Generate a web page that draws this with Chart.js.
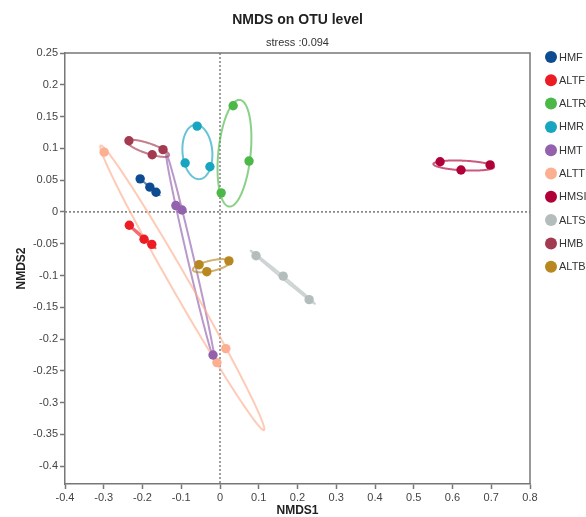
<!DOCTYPE html>
<html>
<head>
<meta charset="utf-8">
<script src="https://cdn.jsdelivr.net/npm/chart.js@4/dist/chart.umd.min.js"></script>
<style>
  html, body { margin: 0; padding: 0; background: #fff; }
  #wrap { width: 586px; height: 517px; }
</style>
</head>
<body>
<div id="wrap"><canvas id="nmds" width="586" height="517"></canvas></div>
<script>
// groups in legend order
const groups = ['HMF', 'ALTF', 'ALTR', 'HMR', 'HMT', 'ALTT', 'HMSI', 'ALTS', 'HMB', 'ALTB'];
const colors = ['#0e4c92', '#ec1c24', '#4cb848', '#17a5bf', '#9461ad', '#fdaf91', '#b00038', '#b4bcbc', '#a33b50', '#b8871f'];

// NMDS1 / NMDS2 scores, 3 samples per group
const HMF = [[-0.206, 0.052], [-0.181, 0.039], [-0.165, 0.031]];
const ALTF = [[-0.234, -0.021], [-0.196, -0.043], [-0.176, -0.051]];
const ALTR = [[0.034, 0.167], [0.075, 0.080], [0.003, 0.030]];
const HMR = [[-0.059, 0.135], [-0.090, 0.077], [-0.026, 0.071]];
const HMT = [[-0.114, 0.010], [-0.098, 0.003], [-0.018, -0.225]];
const ALTT = [[-0.299, 0.094], [0.015, -0.215], [-0.008, -0.237]];
const HMSI = [[0.568, 0.079], [0.622, 0.066], [0.697, 0.074]];
const ALTS = [[0.093, -0.069], [0.163, -0.101], [0.230, -0.138]];
const HMB = [[-0.235, 0.112], [-0.175, 0.090], [-0.147, 0.098]];
const ALTB = [[-0.054, -0.083], [-0.034, -0.094], [0.023, -0.077]];
const scores = [HMF, ALTF, ALTR, HMR, HMT, ALTT, HMSI, ALTS, HMB, ALTB];

const xTicks = [-0.4, -0.3, -0.2, -0.1, 0, 0.1, 0.2, 0.3, 0.4, 0.5, 0.6, 0.7, 0.8];
const yTicks = [0.25, 0.2, 0.15, 0.1, 0.05, 0, -0.05, -0.1, -0.15, -0.2, -0.25, -0.3, -0.35, -0.4];
const stress = 0.094;

const FONT = "'Liberation Sans', Arial, sans-serif";
const AXIS = '#777';
const ELLIPSE_K = 1.21;

function withAlpha(hex, a) {
  const n = parseInt(hex.slice(1), 16);
  return `rgba(${(n >> 16) & 255}, ${(n >> 8) & 255}, ${n & 255}, ${a})`;
}

const fmt = (v) => String(Math.round(v * 100) / 100);

// dotted zero lines + group ellipses (under the points)
const underlay = {
  id: 'underlay',
  beforeDatasetsDraw(chart) {
    const { ctx, chartArea: a, scales: { x, y } } = chart;
    ctx.save();
    ctx.strokeStyle = '#888';
    ctx.lineWidth = 1.6;
    ctx.setLineDash([2, 2]);
    ctx.beginPath();
    const x0 = x.getPixelForValue(0);
    const y0 = y.getPixelForValue(0);
    ctx.moveTo(x0, a.top);
    ctx.lineTo(x0, a.bottom);
    ctx.moveTo(a.left, y0);
    ctx.lineTo(a.right, y0);
    ctx.stroke();
    ctx.setLineDash([]);

    chart.data.datasets.forEach((ds) => {
      const pts = ds.data;
      const n = pts.length;
      const mx = pts.reduce((s, p) => s + p.x, 0) / n;
      const my = pts.reduce((s, p) => s + p.y, 0) / n;
      let sxx = 0; let syy = 0; let sxy = 0;
      pts.forEach((p) => {
        sxx += (p.x - mx) ** 2;
        syy += (p.y - my) ** 2;
        sxy += (p.x - mx) * (p.y - my);
      });
      sxx /= n - 1; syy /= n - 1; sxy /= n - 1;
      const l11 = Math.sqrt(sxx);
      const l21 = sxy / l11;
      const l22 = Math.sqrt(Math.max(syy - l21 * l21, 1e-12));
      ctx.strokeStyle = withAlpha(ds.backgroundColor, 0.65);
      ctx.lineWidth = 2;
      ctx.beginPath();
      for (let i = 0; i <= 180; i += 1) {
        const t = (i / 180) * Math.PI * 2;
        const c = Math.cos(t) * ELLIPSE_K;
        const s = Math.sin(t) * ELLIPSE_K;
        const px = x.getPixelForValue(mx + l11 * c);
        const py = y.getPixelForValue(my + l21 * c + l22 * s);
        if (i === 0) ctx.moveTo(px, py); else ctx.lineTo(px, py);
      }
      ctx.closePath();
      ctx.stroke();
    });
    ctx.restore();
  },
  afterDraw(chart) {
    const { ctx, chartArea: a } = chart;
    ctx.save();
    // top and right edges of the frame
    ctx.strokeStyle = AXIS;
    ctx.lineWidth = 1.5;
    ctx.beginPath();
    ctx.moveTo(a.left, a.top);
    ctx.lineTo(a.right, a.top);
    ctx.lineTo(a.right, a.bottom);
    ctx.stroke();

    // legend
    ctx.font = `11px ${FONT}`;
    ctx.textBaseline = 'middle';
    ctx.textAlign = 'left';
    chart.data.datasets.forEach((ds, i) => {
      const cy = a.top + 4 + i * 23.3;
      const cx = a.right + 21;
      ctx.fillStyle = ds.backgroundColor;
      ctx.beginPath();
      ctx.arc(cx, cy, 6, 0, Math.PI * 2);
      ctx.fill();
      ctx.fillStyle = '#333';
      ctx.fillText(ds.label, cx + 8, cy + 0.5);
    });
    ctx.restore();
  },
};

new Chart(document.getElementById('nmds'), {
  type: 'scatter',
  data: {
    datasets: groups.map((g, i) => ({
      label: g,
      data: scores[i].map(([px, py]) => ({ x: px, y: py })),
      backgroundColor: colors[i],
      borderColor: colors[i],
      borderWidth: 0,
      pointRadius: 4.7,
      pointHoverRadius: 4.7,
    })),
  },
  options: {
    responsive: false,
    animation: false,
    layout: { padding: { left: 0, right: 56, top: 0, bottom: 0 } },
    plugins: {
      legend: { display: false },
      tooltip: { enabled: false },
      title: {
        display: true,
        text: 'NMDS on OTU level',
        fullSize: false,
        color: '#222',
        font: { family: FONT, size: 14, weight: 'bold', lineHeight: 1.2 },
        padding: { top: 12, bottom: 4 },
      },
      subtitle: {
        display: true,
        text: `stress :${stress}`,
        fullSize: false,
        color: '#333',
        font: { family: FONT, size: 11, lineHeight: 1.2 },
        padding: { top: 3.6, bottom: 3.4 },
      },
    },
    scales: {
      x: {
        type: 'linear',
        min: -0.4,
        max: 0.8,
        afterBuildTicks: (s) => { s.ticks = xTicks.map((v) => ({ value: v })); },
        afterFit: (s) => { s.height = 33; },
        grid: { drawOnChartArea: false, drawTicks: true, tickLength: 5, tickColor: AXIS, tickWidth: 1.5 },
        border: { display: true, color: AXIS, width: 1.5 },
        ticks: { color: '#444', padding: 2, font: { family: FONT, size: 11 }, callback: (v) => fmt(v), maxRotation: 0 },
        title: {
          display: true,
          text: 'NMDS1',
          color: '#222',
          font: { family: FONT, size: 12, weight: 'bold', lineHeight: 1 },
          padding: { top: 0, bottom: 0 },
        },
      },
      y: {
        type: 'linear',
        min: -0.428,
        max: 0.25,
        afterBuildTicks: (s) => { s.ticks = yTicks.map((v) => ({ value: v })); },
        afterFit: (s) => { s.width = 65; },
        grid: { drawOnChartArea: false, drawTicks: true, tickLength: 5, tickColor: AXIS, tickWidth: 1.5 },
        border: { display: true, color: AXIS, width: 1.5 },
        ticks: { color: '#444', padding: 2, font: { family: FONT, size: 11 }, callback: (v) => fmt(v) },
        title: {
          display: true,
          text: 'NMDS2',
          color: '#222',
          font: { family: FONT, size: 12, weight: 'bold', lineHeight: 1 },
          padding: { top: 16, bottom: 0 },
        },
      },
    },
  },
  plugins: [underlay],
});
</script>
</body>
</html>
